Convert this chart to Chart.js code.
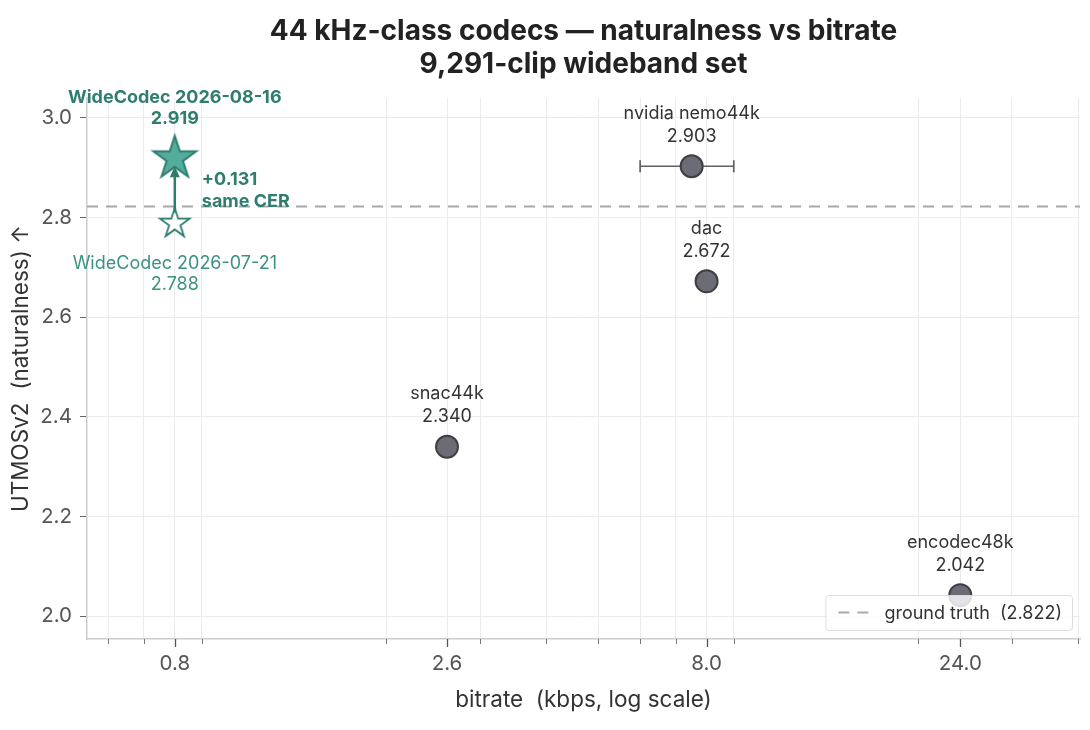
<!DOCTYPE html>
<html><head><meta charset="utf-8">
<style>html,body{margin:0;padding:0;background:#fff;}#wrap{width:1090px;height:730px;}</style>
<script src="https://cdn.jsdelivr.net/npm/chart.js@4.4.0/dist/chart.umd.min.js"></script>
</head><body><div id="wrap"><canvas id="c" width="1090" height="730"></canvas></div>
<script>
// ---------- data ----------
const baselineNames    = ['snac44k', 'nvidia nemo44k', 'dac', 'encodec48k'];
const baselineBitrates = [2.6, 7.5, 8.0, 24.0];
const baselineScores   = [2.340, 2.903, 2.672, 2.042];
const nemoErrBitrates  = [6.0, 9.0];          // x error bar of nvidia nemo44k
const oursNames        = ['WideCodec 2026-07-21', 'WideCodec 2026-08-16'];
const oursBitrates     = [0.8, 0.8];
const oursScores       = [2.788, 2.919];
const groundTruth      = 2.822;
const xTickValues      = [0.8, 2.6, 8.0, 24.0];
const xMinorTickValues = [0.6, 0.7, 0.9, 2, 3, 4, 5, 6, 7, 9, 20, 30, 40];
const yTickValues      = [2.0, 2.2, 2.4, 2.6, 2.8, 3.0];
const X_MIN = 0.547, X_MAX = 40.3, Y_MIN = 1.954, Y_MAX = 3.04;

// ---------- style ----------
const FONT = 'Inter, "DejaVu Sans", sans-serif';
const TEAL_DARK = '#2e7d6f', TEAL_FILL = '#54ac9b', TEAL_TEXT = '#3b9282';
const PT_FILL = '#6c6c76', PT_EDGE = '#3e3e46';
const LBL = 18;
const DASH = [11, 8];

function makeStar(R, fill, stroke, lw) {
  const s = Math.ceil(2 * R + 2 * lw + 6);
  const c = document.createElement('canvas'); c.width = s; c.height = s;
  const g = c.getContext('2d');
  const cx = s / 2, cy = s / 2;
  g.beginPath();
  for (let i = 0; i < 10; i++) {
    const r = i % 2 ? R * 0.381966 : R;
    const a = -Math.PI / 2 + i * Math.PI / 5;
    g.lineTo(cx + r * Math.cos(a), cy + r * Math.sin(a));
  }
  g.closePath(); g.lineJoin = 'miter';
  if (fill) { g.fillStyle = fill; g.fill(); }
  g.lineWidth = lw; g.strokeStyle = stroke; g.stroke();
  return c;
}
const starNew = makeStar(22.5, TEAL_FILL, TEAL_DARK, 2);
const starOld = makeStar(15.5, '#ffffff', TEAL_DARK, 1.8);

const annotatePlugin = {
  id: 'annot',
  afterDatasetsDraw(chart) {
    const { ctx, scales: { x, y } } = chart;
    ctx.save();
    // arrow old -> new
    const ax = x.getPixelForValue(oursBitrates[0]);
    const y0 = y.getPixelForValue(oursScores[0]) - 11;
    const y1 = y.getPixelForValue(oursScores[1]) + 8;
    ctx.strokeStyle = TEAL_DARK; ctx.fillStyle = TEAL_DARK; ctx.lineWidth = 2.5;
    ctx.beginPath(); ctx.moveTo(ax, y0); ctx.lineTo(ax, y1 + 8); ctx.stroke();
    ctx.beginPath(); ctx.moveTo(ax, y1); ctx.lineTo(ax - 5, y1 + 11); ctx.lineTo(ax + 5, y1 + 11); ctx.closePath(); ctx.fill();

    ctx.textAlign = 'center'; ctx.textBaseline = 'middle';
    // baseline labels
    ctx.font = LBL + 'px ' + FONT; ctx.fillStyle = '#333';
    baselineNames.forEach((n, i) => {
      const px = x.getPixelForValue(baselineBitrates[i]);
      const py = y.getPixelForValue(baselineScores[i]);
      ctx.fillText(n, px, py - 53);
      ctx.fillText(baselineScores[i].toFixed(3), px, py - 30);
    });
    // ours labels
    {
      const px = x.getPixelForValue(oursBitrates[1]);
      const py = y.getPixelForValue(oursScores[1]);
      ctx.font = 'bold ' + LBL + 'px ' + FONT; ctx.fillStyle = TEAL_DARK;
      ctx.fillText(oursNames[1], px, py - 61);
      ctx.fillText(oursScores[1].toFixed(3), px, py - 40);
    }
    {
      const px = x.getPixelForValue(oursBitrates[0]);
      const py = y.getPixelForValue(oursScores[0]);
      ctx.font = LBL + 'px ' + FONT; ctx.fillStyle = TEAL_TEXT;
      ctx.fillText(oursNames[0], px, py + 40);
      ctx.fillText(oursScores[0].toFixed(3), px, py + 61);
    }
    // delta text
    {
      const px = x.getPixelForValue(oursBitrates[0]) + 27;
      const pm = y.getPixelForValue((oursScores[0] + oursScores[1]) / 2);
      ctx.font = 'bold ' + LBL + 'px ' + FONT; ctx.fillStyle = TEAL_DARK; ctx.textAlign = 'left';
      ctx.fillText('+' + (oursScores[1] - oursScores[0]).toFixed(3), px, pm - 11);
      ctx.fillText('same CER', px, pm + 11);
    }
    ctx.restore();
  },
  afterDraw(chart) {
    const { ctx, scales: { x }, chartArea } = chart;
    ctx.save();
    // x tick marks (major + minor)
    xTickValues.forEach(v => {
      const px = Math.round(x.getPixelForValue(v)) + 0.5;
      ctx.strokeStyle = '#555'; ctx.lineWidth = 1.3;
      ctx.beginPath(); ctx.moveTo(px, chartArea.bottom); ctx.lineTo(px, chartArea.bottom + 8); ctx.stroke();
    });
    xMinorTickValues.forEach(v => {
      const px = Math.round(x.getPixelForValue(v)) + 0.5;
      ctx.strokeStyle = '#777'; ctx.lineWidth = 1;
      ctx.beginPath(); ctx.moveTo(px, chartArea.bottom); ctx.lineTo(px, chartArea.bottom + 5); ctx.stroke();
    });
    // legend
    const label = chart.data.datasets.find(d => d.id === 'gt').label;
    ctx.font = LBL + 'px ' + FONT;
    const tw = ctx.measureText(label).width;
    const bw = 59 + tw + 10, bh = 35;
    const bx = chartArea.right - 8 - bw, by = chartArea.bottom - 9 - bh;
    ctx.fillStyle = 'rgba(255,255,255,0.82)'; ctx.strokeStyle = '#dddddd'; ctx.lineWidth = 1;
    ctx.beginPath(); ctx.roundRect(bx + 0.5, by + 0.5, bw, bh, 3); ctx.fill(); ctx.stroke();
    ctx.strokeStyle = '#aaaaaa'; ctx.lineWidth = 2; ctx.setLineDash(DASH);
    ctx.beginPath(); ctx.moveTo(bx + 13, by + bh / 2); ctx.lineTo(bx + 43, by + bh / 2); ctx.stroke();
    ctx.setLineDash([]);
    ctx.fillStyle = '#333'; ctx.textAlign = 'left'; ctx.textBaseline = 'middle';
    ctx.fillText(label, bx + 59, by + bh / 2 + 1);
    ctx.restore();
  }
};

new Chart(document.getElementById('c'), {
  type: 'scatter',
  data: {
    datasets: [
      { label: oursNames[1], data: [{ x: oursBitrates[1], y: oursScores[1] }], pointStyle: starNew, pointRadius: 22 },
      { label: oursNames[0], data: [{ x: oursBitrates[0], y: oursScores[0] }], pointStyle: starOld, pointRadius: 16 },
      { label: 'baselines', data: baselineBitrates.map((b, i) => ({ x: b, y: baselineScores[i] })),
        pointRadius: 11, backgroundColor: PT_FILL, borderColor: PT_EDGE, pointBorderWidth: 2 },
      { type: 'line', label: 'nemo err', data: nemoErrBitrates.map(b => ({ x: b, y: baselineScores[1] })),
        borderColor: '#5f5f66', borderWidth: 1.7, pointStyle: 'line', rotation: 90, pointRadius: 6,
        pointBorderColor: '#5f5f66', pointBorderWidth: 1.7, showLine: true },
      { id: 'gt', type: 'line', label: 'ground truth  (' + groundTruth.toFixed(3) + ')',
        data: [{ x: X_MIN, y: groundTruth }, { x: X_MAX, y: groundTruth }],
        borderColor: '#a8a8a8', borderWidth: 2, borderDash: DASH, pointRadius: 0, showLine: true }
    ]
  },
  options: {
    responsive: false, animation: false, devicePixelRatio: 1,
    layout: { autoPadding: false, padding: { top: 0, left: 0, right: 10, bottom: 0 } },
    plugins: {
      legend: { display: false }, tooltip: { enabled: false },
      title: {
        display: true, fullSize: false,
        text: ['44 kHz-class codecs — naturalness vs bitrate', '9,291-clip wideband set'],
        font: { family: FONT, size: 28, weight: 'bold', lineHeight: 33 / 28 },
        color: '#222', padding: { top: 15, bottom: 17 }
      }
    },
    scales: {
      x: {
        type: 'logarithmic', min: X_MIN, max: X_MAX,
        afterBuildTicks: s => {
          s.ticks = [...xTickValues, ...xMinorTickValues].sort((a, b) => a - b)
            .map(v => ({ value: v, major: xTickValues.includes(v) }));
        },
        afterFit: s => { s.height = 91; s.paddingLeft = 0; s.paddingRight = 0; },
        ticks: {
          autoSkip: false, maxRotation: 0, padding: 5, color: '#555',
          font: { family: FONT, size: 20.5 },
          callback: v => xTickValues.includes(v) ? v.toFixed(1) : ''
        },
        grid: { color: '#ebebeb', lineWidth: 1, tickLength: 8, tickColor: 'rgba(0,0,0,0)' },
        border: { color: '#cccccc', width: 1.5 },
        title: { display: true, text: 'bitrate  (kbps, log scale)', color: '#333',
          font: { family: FONT, size: 22.5 }, padding: { top: 4, bottom: 16 } }
      },
      y: {
        min: Y_MIN, max: Y_MAX,
        afterBuildTicks: s => { s.ticks = yTickValues.map(v => ({ value: v })); },
        afterFit: s => { s.width = 87; },
        ticks: { color: '#555', padding: 8, font: { family: FONT, size: 20.5 },
          callback: v => v.toFixed(1) },
        grid: { color: '#ebebeb', lineWidth: 1, tickLength: 7, tickColor: '#666' },
        border: { color: '#cccccc', width: 1.5 },
        title: { display: true, text: 'UTMOSv2  (naturalness) ↑', color: '#333',
          font: { family: FONT, size: 22.5 }, padding: { top: 8, bottom: 0 } }
      }
    }
  },
  plugins: [annotatePlugin]
});
</script></body></html>
